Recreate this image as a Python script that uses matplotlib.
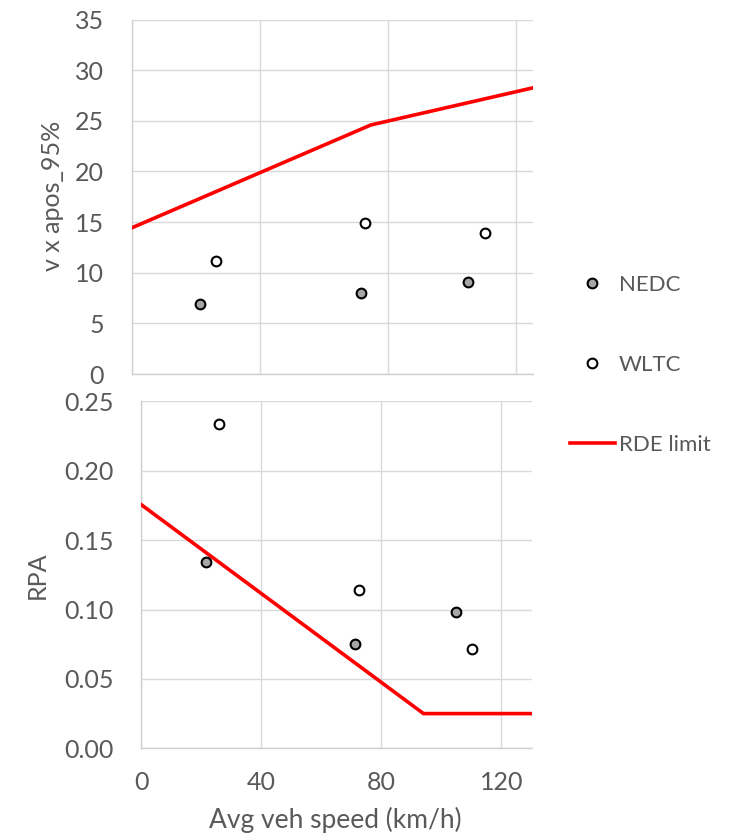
import matplotlib
matplotlib.use("Agg")
import matplotlib.pyplot as plt
from matplotlib.lines import Line2D

# Measured cycle results
nedc_speed_top = [21.3, 71.5, 105.0]
nedc_vapos = [6.9, 8.0, 9.05]
wltc_speed_top = [26.2, 72.8, 110.3]
wltc_vapos = [11.2, 14.95, 13.9]

nedc_speed_bot = [21.5, 71.3, 104.8]
nedc_rpa = [0.134, 0.0755, 0.0985]
wltc_speed_bot = [25.8, 72.7, 110.3]
wltc_rpa = [0.234, 0.114, 0.0713]

# RDE boundary limits (piecewise linear)
limit_speed_vapos = [0, 74.6, 125]
limit_vapos = [14.44, 24.59, 28.24]
limit_speed_rpa = [0, 94.05, 130]
limit_rpa = [0.1755, 0.025, 0.025]

x_ticks = [0, 40, 80, 120]
top_y_ticks = [0, 5, 10, 15, 20, 25, 30, 35]
bot_y_ticks = [0.00, 0.05, 0.10, 0.15, 0.20, 0.25]

TEXT = "#595959"
GRID = "#d9d9d9"
FONT = "Lato"
FS = 18

plt.rcParams["font.family"] = [FONT, "DejaVu Sans"]

fig = plt.figure(figsize=(7.36, 8.38), dpi=100)
W, H = 736, 838

def px_axes(left, top, right, bottom):
    return fig.add_axes([left / W, 1 - bottom / H, (right - left) / W, (bottom - top) / H])

ax1 = px_axes(132, 19.5, 533.3, 374)
ax2 = px_axes(141.3, 401.3, 532.3, 748.3)

nedc_style = dict(linestyle="none", marker="o", markersize=7, markerfacecolor="#a6a6a6",
                  markeredgecolor="black", markeredgewidth=1.5)
wltc_style = dict(linestyle="none", marker="o", markersize=7, markerfacecolor="white",
                  markeredgecolor="black", markeredgewidth=1.5)
limit_style = dict(color="#ff0000", linewidth=2.6, solid_joinstyle="miter")

ax1.plot(limit_speed_vapos, limit_vapos, **limit_style, zorder=3)
ax1.plot(nedc_speed_top, nedc_vapos, **nedc_style, zorder=4)
ax1.plot(wltc_speed_top, wltc_vapos, **wltc_style, zorder=4)

ax2.plot(limit_speed_rpa, limit_rpa, **limit_style, zorder=3)
ax2.plot(nedc_speed_bot, nedc_rpa, **nedc_style, zorder=4)
ax2.plot(wltc_speed_bot, wltc_rpa, **wltc_style, zorder=4)

ax1.set_xlim(0, 125.3)
ax1.set_ylim(0, 35)
ax1.set_yticks(top_y_ticks)
ax1.set_yticklabels([str(v) for v in top_y_ticks])
ax1.set_xticks(x_ticks)
ax1.tick_params(axis="x", labelbottom=False, length=0)

ax2.set_xlim(0, 130.3)
ax2.set_ylim(0, 0.25)
ax2.set_yticks(bot_y_ticks)
ax2.set_yticklabels([f"{v:.2f}" for v in bot_y_ticks])
ax2.set_xticks(x_ticks)
ax2.set_xticklabels([str(v) for v in x_ticks])

for ax in (ax1, ax2):
    ax.grid(True, color=GRID, linewidth=1.0)
    ax.set_axisbelow(True)
    for side in ("top", "right"):
        ax.spines[side].set_visible(False)
    for side in ("left", "bottom"):
        ax.spines[side].set_color("#d0d0d0")
        ax.spines[side].set_linewidth(1.0)
    ax.tick_params(axis="y", length=0, pad=20, labelsize=FS, labelcolor=TEXT)
    ax.tick_params(axis="x", length=0, pad=16, labelsize=FS, labelcolor=TEXT)

ax1.set_ylabel("v x apos_95%", fontsize=18, color=TEXT)
ax1.yaxis.set_label_coords((53 - 132) / 401.3, 0.502)
ax1.yaxis.label.set_va("center")

ax2.set_ylabel("RPA", fontsize=18, color=TEXT)
ax2.yaxis.set_label_coords((37 - 141.3) / 391.0, 0.50)
ax2.yaxis.label.set_va("center")

ax2.set_xlabel("Avg veh speed (km/h)", fontsize=19, color=TEXT)
ax2.xaxis.set_label_coords(0.497, (748.3 - 820) / 347.0)
ax2.xaxis.label.set_va("center")

handles = [
    Line2D([], [], **nedc_style),
    Line2D([], [], **wltc_style),
    Line2D([], [], **limit_style),
]
leg = fig.legend(handles, ["NEDC", "WLTC", "RDE limit"], loc="upper left",
                 bbox_to_anchor=(559 / W, 1 - 264 / H), frameon=False,
                 fontsize=16, labelcolor=TEXT, labelspacing=2.7,
                 handlelength=2.0, handletextpad=0.2, borderpad=0)

fig.savefig("out.png", dpi=100)
